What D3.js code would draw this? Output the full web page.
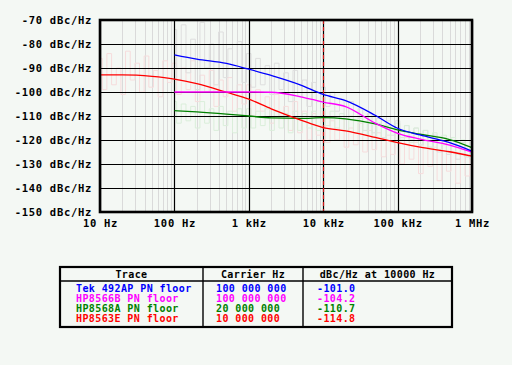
<!DOCTYPE html>
<html><head><meta charset="utf-8">
<script src="https://cdn.jsdelivr.net/npm/d3@7"></script>
<style>
html,body{margin:0;padding:0;background:#f4f8f4;}
svg{display:block;}
text{font-family:"DejaVu Sans Mono",monospace;font-weight:bold;}
</style></head>
<body>
<svg id="chart" width="512" height="365"></svg>
<script>
// ---------- data ----------
const yTicks = [-70,-80,-90,-100,-110,-120,-130,-140,-150];
const xTicks = [10,100,1000,10000,100000,1000000];
const xTickLabels = ["10 Hz","100 Hz","1 kHz","10 kHz","100 kHz","1 MHz"];
const minorMult = [2,3,4,5,6,7,8,9];

const traceFreq = [100,200,500,1000,2000,5000,10000,20000,50000,100000,200000,500000,1000000];
const blueDb    = [-84.5,-86.3,-88.1,-90.5,-93.1,-97.1,-101.0,-103.6,-109.7,-115.1,-117.9,-121.1,-124.6];
const magentaDb = [-100.0,-100.0,-100.0,-100.0,-100.1,-102.0,-104.2,-106.1,-113.0,-117.2,-119.6,-122.1,-125.1];
const greenDb   = [-107.8,-108.3,-109.2,-110.0,-110.8,-111.0,-110.7,-111.2,-113.3,-115.8,-117.6,-119.8,-123.2];
const redFreq   = [10,20,50,100,200,500,1000,2000,5000,10000,20000,50000,100000,200000,500000,1000000];
const redDb     = [-92.9,-92.9,-93.5,-94.6,-96.5,-100.1,-103.0,-107.0,-111.7,-114.8,-116.2,-118.9,-121.1,-123.0,-124.9,-126.7];

// raw (unsmoothed) measurements, drawn faintly
const noiseMantissa = [1.00,1.15,1.33,1.54,1.78,2.05,2.37,2.74,3.16,3.65,4.22,4.87,5.62,6.49,7.50,8.66];
const pinkDecades = [10,100,1000,10000,100000];
const pinkRaw = [
 -86,-99,-84,-97,-90,-101,-83,-95,-88,-100,-85,-98,-91,-102,-87,-96,
 -88,-101,-90,-99,-87,-104,-93,-100,-91,-106,-95,-102,-94,-108,-97,-105,
 -97,-110,-99,-108,-102,-113,-101,-110,-106,-116,-104,-117,-108,-120,-109,-118,
 -110,-121,-112,-120,-111,-123,-115,-122,-113,-125,-116,-124,-117,-127,-118,-126,
 -117,-130,-119,-128,-121,-134,-120,-131,-123,-137,-122,-133,-125,-138,-124,-135,
 -128];
const rawDecades = [100,1000,10000,100000];
const greyRaw = [
 -74,-95,-72,-92,-78,-99,-71,-90,-80,-97,-75,-94,-82,-100,-79,-96,
 -84,-98,-86,-97,-89,-101,-88,-99,-92,-104,-91,-102,-95,-106,-96,-104,
 -98,-106,-100,-108,-103,-111,-104,-112,-107,-116,-109,-117,-111,-119,-112,-118,
 -112,-119,-114,-120,-115,-122,-116,-123,-118,-125,-119,-126,-120,-128,-121,-127,
 -125];
const greenRaw = [
 -104,-113,-105,-112,-106,-115,-104,-113,-107,-116,-106,-114,-108,-117,-107,-115,
 -107,-115,-108,-114,-107,-116,-108,-115,-109,-117,-108,-116,-109,-115,-108,-116,
 -107,-114,-108,-115,-109,-116,-110,-117,-111,-118,-112,-119,-113,-120,-114,-121,
 -113,-120,-114,-121,-115,-122,-116,-123,-117,-124,-118,-125,-119,-126,-120,-127,
 -123];

const traceNames = ["Tek 492AP PN floor","HP8566B PN floor","HP8568A PN floor","HP8563E PN floor"];
const carriers   = ["100 000 000","100 000 000","20 000 000","10 000 000"];
const at10k      = ["-101.0","-104.2","-110.7","-114.8"];
const traceColors = ["#0000ff","#ff00ff","#008000","#ff0000"];
const markerFreq = 10000;

// ---------- layout ----------
const svg = d3.select("#chart");
const L=100, R=472, T=20, B=212;
const x = d3.scaleLog().domain([10,1e6]).range([L,R]);
const y = d3.scaleLinear().domain([-150,-70]).range([B,T]);

svg.append("rect").attr("width",512).attr("height",365).attr("fill","#f4f8f4");

// minor vertical grid
const minorVals = [];
xTicks.slice(0,-1).forEach(d=>minorMult.forEach(m=>minorVals.push(d*m)));
svg.append("g").selectAll("line").data(minorVals).join("line")
  .attr("x1",d=>Math.round(x(d))+0.5).attr("x2",d=>Math.round(x(d))+0.5)
  .attr("y1",T).attr("y2",B).attr("stroke","#dadada").attr("stroke-width",1);

// faint raw traces
function buildFreq(decs, n){
  const f=[]; decs.forEach(d=>noiseMantissa.forEach(m=>f.push(d*m)));
  f.push(decs[decs.length-1]*10);
  return f.slice(0,n);
}
const rawLine = d3.line().x(d=>x(d[0])).y(d=>y(d[1])).curve(d3.curveStep);
const raws = [
  {f:buildFreq(pinkDecades,pinkRaw.length), v:pinkRaw, c:"#f6dcdc"},
  {f:buildFreq(rawDecades,greyRaw.length), v:greyRaw, c:"#dedede"},
  {f:buildFreq(rawDecades,greenRaw.length), v:greenRaw, c:"#daeeda"}
];
raws.forEach(r=>{
  svg.append("path").datum(r.f.map((f,i)=>[f,r.v[i]]))
    .attr("d",rawLine).attr("fill","none").attr("stroke",r.c).attr("stroke-width",1);
});

// major grid
svg.append("g").selectAll("line").data(yTicks).join("line")
  .attr("x1",L).attr("x2",R).attr("y1",d=>Math.round(y(d))+0.5).attr("y2",d=>Math.round(y(d))+0.5)
  .attr("stroke","#000").attr("stroke-width",1.2);
svg.append("g").selectAll("line").data(xTicks).join("line")
  .attr("x1",d=>Math.round(x(d))+0.5).attr("x2",d=>Math.round(x(d))+0.5)
  .attr("y1",T).attr("y2",B).attr("stroke","#000").attr("stroke-width",1.2);

// marker at 10 kHz
svg.append("line").attr("x1",Math.round(x(markerFreq))+0.5).attr("x2",Math.round(x(markerFreq))+0.5)
  .attr("y1",T).attr("y2",B).attr("stroke","#d01818").attr("stroke-width",1.2)
  .attr("stroke-dasharray","4,3");

// traces
const line = d3.line().x(d=>x(d[0])).y(d=>y(d[1])).curve(d3.curveMonotoneX);
const series = [
  {f:traceFreq, v:greenDb, c:traceColors[2]},
  {f:redFreq, v:redDb, c:traceColors[3]},
  {f:traceFreq, v:magentaDb, c:traceColors[1]},
  {f:traceFreq, v:blueDb, c:traceColors[0]}
];
series.forEach(s=>{
  svg.append("path").datum(s.f.map((f,i)=>[f,s.v[i]]))
    .attr("d",line).attr("fill","none").attr("stroke",s.c).attr("stroke-width",1.3);
});

// frame
svg.append("rect").attr("x",L).attr("y",T).attr("width",R-L).attr("height",B-T)
  .attr("fill","none").attr("stroke","#000").attr("stroke-width",2.6);

// axes labels
const yAxis = d3.axisLeft(y).tickValues(yTicks).tickSize(0).tickPadding(8)
  .tickFormat(d=>d+" dBc/Hz");
const gy = svg.append("g").attr("transform",`translate(${L},0)`).call(yAxis);
gy.select(".domain").remove();
gy.selectAll("text").attr("font-size","10.5px").attr("font-family","DejaVu Sans Mono")
  .attr("font-weight","bold").attr("letter-spacing","0.7px").attr("fill","#000");

const xAxis = d3.axisBottom(x).tickValues(xTicks).tickSize(0).tickPadding(8)
  .tickFormat((d,i)=>xTickLabels[i]);
const gx = svg.append("g").attr("transform",`translate(0,${B})`).call(xAxis);
gx.select(".domain").remove();
gx.selectAll("text").attr("font-size","10.5px").attr("font-family","DejaVu Sans Mono")
  .attr("font-weight","bold").attr("letter-spacing","0.7px").attr("fill","#000");

// legend table
const tb = svg.append("g");
const TL=60, TR=452, TT=267, TB=327, HY=281, C1=203, C2=303;
tb.append("rect").attr("x",TL).attr("y",TT).attr("width",TR-TL).attr("height",TB-TT)
  .attr("fill","#f4f8f4").attr("stroke","#000").attr("stroke-width",2.2);
tb.append("line").attr("x1",TL).attr("x2",TR).attr("y1",HY).attr("y2",HY).attr("stroke","#000").attr("stroke-width",1.4);
[C1,C2].forEach(cx=>tb.append("line").attr("x1",cx).attr("x2",cx).attr("y1",TT).attr("y2",TB)
  .attr("stroke","#000").attr("stroke-width",1.4));
const headers = [["Trace",(TL+C1)/2],["Carrier Hz",(C1+C2)/2],["dBc/Hz at 10000 Hz",(C2+TR)/2]];
headers.forEach(h=>tb.append("text").attr("x",h[1]).attr("y",277.5).attr("text-anchor","middle")
  .attr("font-size","10px").attr("letter-spacing","0.4px").attr("fill","#000").text(h[0]));
traceNames.forEach((n,i)=>{
  const by = 292.3 + i*10;
  const g = tb.append("g").attr("fill",traceColors[i]).attr("font-size","10px").attr("letter-spacing","0.4px");
  g.append("text").attr("x",76).attr("y",by).text(n);
  g.append("text").attr("x",216).attr("y",by).text(carriers[i]);
  g.append("text").attr("x",317).attr("y",by).text(at10k[i]);
});
</script>
</body></html>
